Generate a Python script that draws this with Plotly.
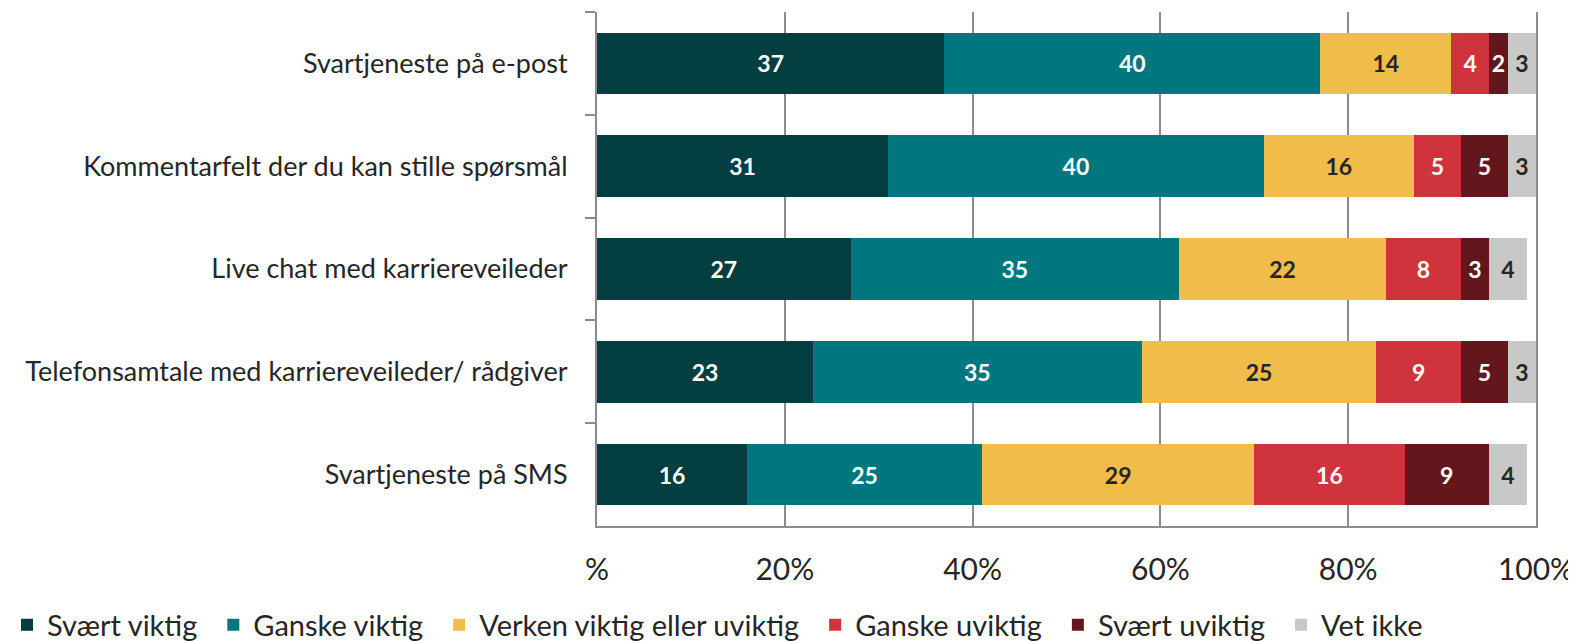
import plotly.graph_objects as go

categories = [
    "Svartjeneste på e-post",
    "Kommentarfelt der du kan stille spørsmål",
    "Live chat med karriereveileder",
    "Telefonsamtale med karriereveileder/ rådgiver",
    "Svartjeneste på SMS",
]
svaert_viktig = [37, 31, 27, 23, 16]
ganske_viktig = [40, 40, 35, 35, 25]
verken = [14, 16, 22, 25, 29]
ganske_uviktig = [4, 5, 8, 9, 16]
svaert_uviktig = [2, 5, 3, 5, 9]
vet_ikke = [3, 3, 4, 3, 4]

series = [
    ("Svært viktig", svaert_viktig, "#023d40", "white"),
    ("Ganske viktig", ganske_viktig, "#00767f", "white"),
    ("Verken viktig eller uviktig", verken, "#f0bc4a", "#262626"),
    ("Ganske uviktig", ganske_uviktig, "#cf343d", "white"),
    ("Svært uviktig", svaert_uviktig, "#63171c", "white"),
    ("Vet ikke", vet_ikke, "#c8c8c8", "#262626"),
]

tick_vals = [0, 20, 40, 60, 80, 100]
tick_text = ["%", "20%", "40%", "60%", "80%", "100%"]

FONT = "Lato, Calibri, Carlito, sans-serif"

# the page body adds an 8px offset, so the figure is sized to the visible area
W, H = 1568, 633
ML, MR, MT, MB = 589, 40, 4, 115
plot_w = W - ML - MR

PAD = "\u00a0\u2009"  # spacing after legend entries

fig = go.Figure()
for name, vals, color, tcolor in series:
    fig.add_trace(go.Bar(
        y=categories, x=vals, name=name + PAD, orientation="h",
        marker=dict(color=color, line=dict(width=0)),
        text=[str(v) for v in vals],
        textposition="inside", insidetextanchor="middle", textangle=0,
        insidetextfont=dict(family=FONT, size=23, color=tcolor, weight="bold"),
        hoverinfo="skip",
    ))

fig.update_layout(
    barmode="stack",
    bargap=0.4,
    width=W, height=H,
    margin=dict(l=ML, r=MR, t=MT, b=MB, autoexpand=False),
    plot_bgcolor="white", paper_bgcolor="white",
    font=dict(family=FONT, size=27, color="#262626"),
    showlegend=True,
    legend=dict(
        orientation="h",
        x=-(ML + 1) / plot_w, xanchor="left",
        y=-0.143, yanchor="top",
        font=dict(family=FONT, size=29, color="#262626"),
        traceorder="normal", itemwidth=30,
    ),
    uniformtext=dict(minsize=23, mode="show"),
)
fig.update_xaxes(
    range=[0, 100], tickvals=tick_vals, ticktext=tick_text,
    showgrid=True, gridcolor="#8c8c8c", gridwidth=1.5,
    showline=True, linecolor="#8c8c8c", linewidth=2,
    ticks="", zeroline=False,
    tickfont=dict(family=FONT, size=30, color="#262626"),
    ticklabelstandoff=16,
)
fig.update_yaxes(
    categoryorder="array", categoryarray=categories, autorange="reversed",
    showline=True, linecolor="#8c8c8c", linewidth=2, mirror=True,
    ticks="outside", tickson="boundaries", ticklen=10, tickcolor="#8c8c8c", tickwidth=2,
    tickfont=dict(family=FONT, size=27, color="#262626"),
    ticklabelstandoff=22,
)

fig.write_html("out.html")
